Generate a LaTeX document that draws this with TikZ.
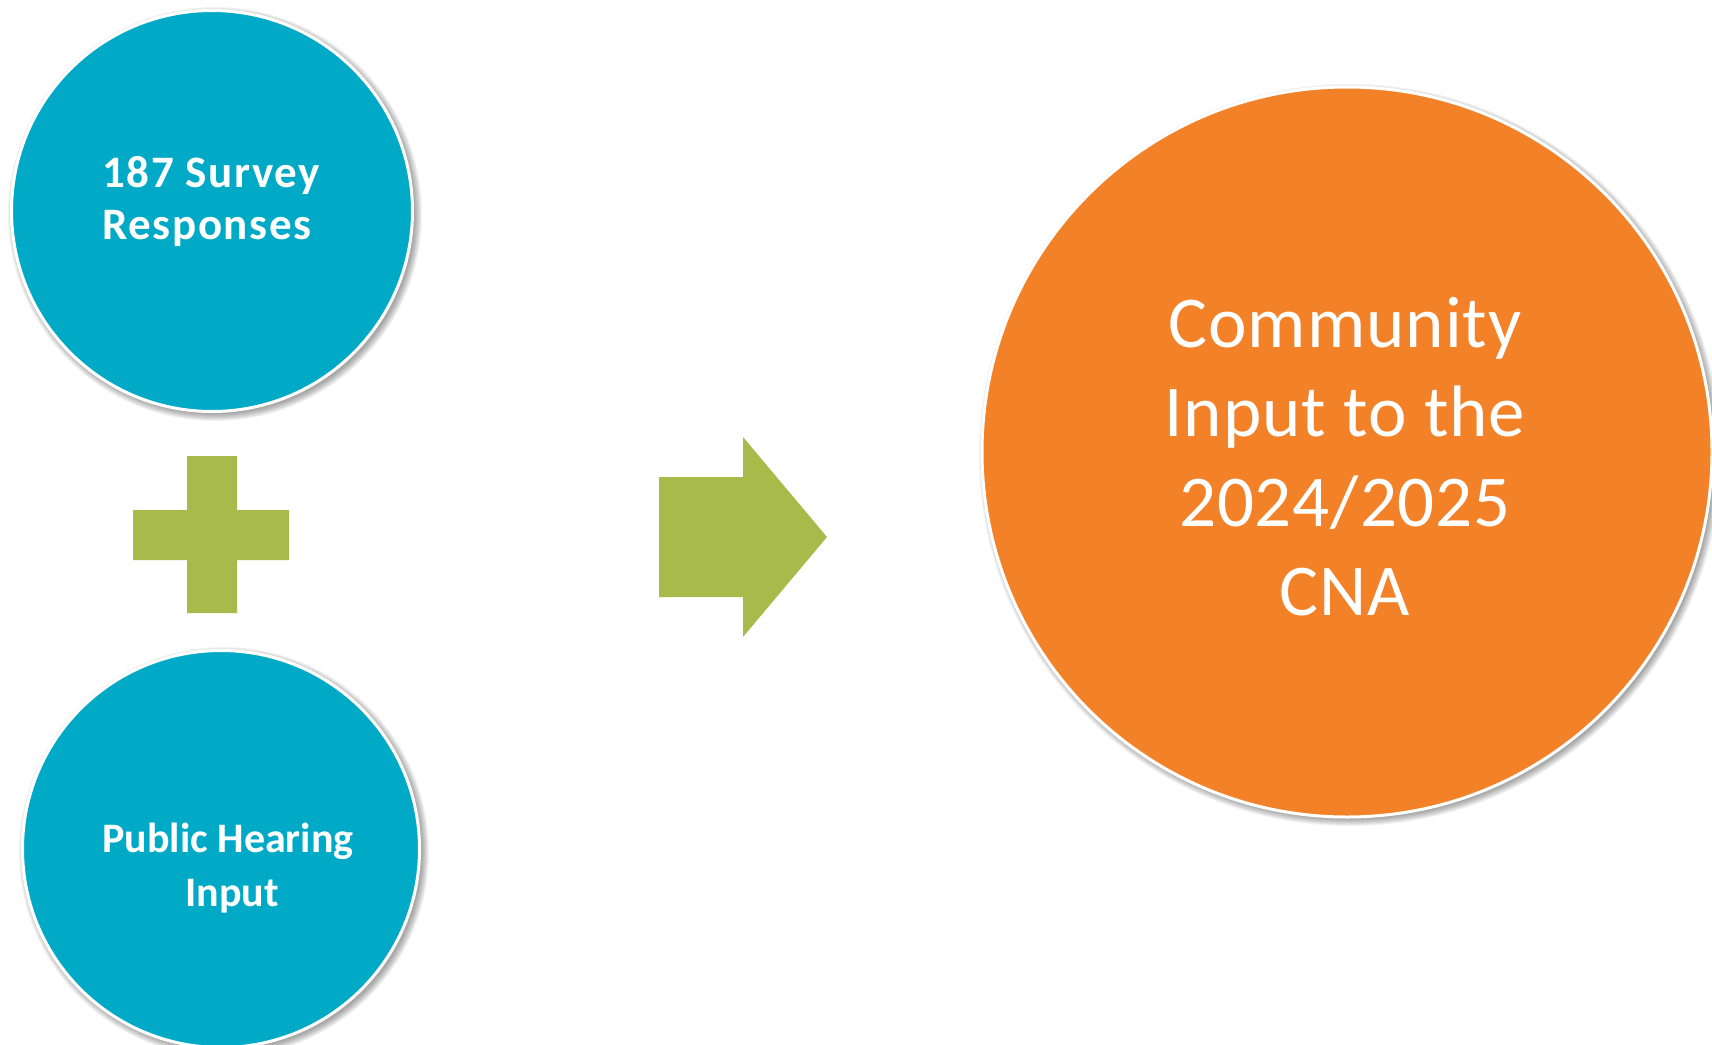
\documentclass[tikz,border=0pt]{standalone}
\usepackage{fontspec}
\setmainfont{Carlito}
\usetikzlibrary{calc}
\definecolor{cblue}{RGB}{0,170,199}
\definecolor{corange}{RGB}{243,129,40}
\definecolor{cgreen}{RGB}{168,186,74}
\begin{document}
\begin{tikzpicture}[x=1pt,y=-1pt,
  disc/.style={circle, fill=#1, draw=white, line width=3pt, inner sep=0pt},
  smalltxt/.style={text=white, inner sep=0pt, font=\bfseries\fontsize{45}{54}\selectfont\addfontfeature{LetterSpace=3.6}},
  smalltxtb/.style={text=white, inner sep=0pt, font=\bfseries\fontsize{42}{51}\selectfont},
  bigtxt/.style={text=white, inner sep=0pt, font=\fontsize{73}{89}\selectfont\addfontfeature{LetterSpace=1.3}},
  shape fill/.style={fill=cgreen, draw=none}]
\useasboundingbox (0,0) rectangle (1712,1044);
\coordinate (c1) at (212,211);
\coordinate (c2) at (221,849);
\coordinate (c3) at (1347,452);
% soft shadows
\foreach \k in {0,...,7}{
  \fill[black, opacity=0.05] ($(c1)+(3,3)$) circle[radius=200+\k];
  \fill[black, opacity=0.05] ($(c2)+(3,3)$) circle[radius=198+\k];
  \fill[black, opacity=0.05] ($(c3)+(3,3)$) circle[radius=364+\k];
}
\node[disc=cblue, minimum size=2*200.5pt] (survey) at (c1) {};
\node[disc=cblue, minimum size=2*198.5pt] (hearing) at (c2) {};
\node[disc=corange, minimum size=2*365pt] (cna) at (c3) {};
% plus
\path[shape fill] (187,456) -- (237,456) -- (237,510) -- (289,510) -- (289,560) -- (237,560)
  -- (237,613) -- (187,613) -- (187,560) -- (133,560) -- (133,510) -- (187,510) -- cycle;
% arrow
\path[shape fill] (659,477) -- (743,477) -- (743,437) -- (827,537) -- (743,637)
  -- (743,597) -- (659,597) -- cycle;
% texts
\node[smalltxt, anchor=base west] (s1) at (102,187) {187 Survey};
\node[smalltxt, anchor=base west] (s2) at (102,239) {Responses};
\node[smalltxtb, anchor=base] (h1) at (228,852) {Public Hearing};
\node[smalltxtb, anchor=base] (h2) at (232,906) {Input};
\node[bigtxt, anchor=base] (b1) at (1345,347.5) {Community};
\node[bigtxt, anchor=base] (b2) at (1345,436.8) {Input to the};
\node[bigtxt, anchor=base] (b3) at (1345,526.1) {2024/2025};
\node[bigtxt, anchor=base] (b4) at (1345,615.4) {CNA};
\end{tikzpicture}
\end{document}
